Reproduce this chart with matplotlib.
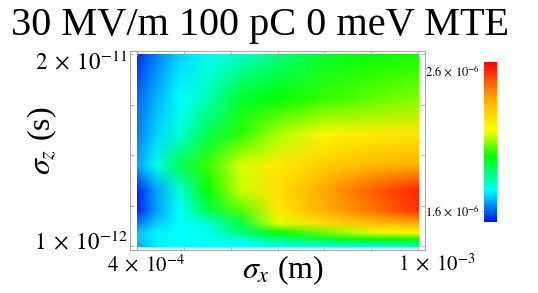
import numpy as np
import matplotlib
matplotlib.use("Agg")
import matplotlib.pyplot as plt
import matplotlib.transforms as mtransforms
from matplotlib.colors import LinearSegmentedColormap, Normalize
from matplotlib.image import NonUniformImage
from matplotlib.patches import Rectangle

# grid nodes
sigma_x = [4.0e-4, 4.4e-4, 4.9e-4, 5.5e-4, 6.2e-4, 7.0e-4, 8.0e-4, 9.0e-4, 1.0e-3]   # m
sigma_z = [1.0e-12, 1.6e-12, 2.3e-12, 3.2e-12, 4.5e-12, 6.5e-12, 9.0e-12,
           12.0e-12, 15.5e-12, 20.0e-12]                                         # s

# emittance (x 1e-6), rows follow sigma_z, columns follow sigma_x
emit = [
    [1.66, 1.73, 1.75, 1.75, 1.75, 1.77, 1.77, 1.77, 1.81],
    [1.69, 1.74, 1.75, 1.76, 1.78, 1.86, 1.93, 1.99, 1.99],
    [1.69, 1.74, 1.75, 1.77, 1.88, 1.98, 2.07, 2.16, 2.20],
    [1.63, 1.70, 1.75, 1.78, 1.92, 2.16, 2.27, 2.34, 2.38],
    [1.54, 1.66, 1.75, 1.92, 2.05, 2.23, 2.38, 2.48, 2.58],
    [1.55, 1.66, 1.79, 1.99, 2.14, 2.26, 2.40, 2.51, 2.60],
    [1.67, 1.77, 1.92, 2.03, 2.15, 2.23, 2.30, 2.35, 2.38],
    [1.63, 1.71, 1.79, 1.92, 2.02, 2.12, 2.20, 2.23, 2.25],
    [1.61, 1.68, 1.75, 1.82, 1.95, 1.99, 2.03, 2.06, 2.09],
    [1.55, 1.63, 1.71, 1.76, 1.80, 1.87, 1.95, 1.99, 2.00],
]

x_ticks = [4e-4, 1e-3]
x_ticklabels = [r"$4\;\times\;10^{-4}$", r"$1\;\times\;10^{-3}$"]
y_ticks = [1e-12, 2e-11]
y_ticklabels = [r"$1\;\times\;10^{-12}$", r"$2\;\times\;10^{-11}$"]
cb_ticks = [1.6, 2.6]
cb_ticklabels = [r"$1.6\,\times\,10^{-6}$", r"$2.6\,\times\,10^{-6}$"]

plt.rcParams["font.family"] = ["Liberation Serif", "DejaVu Serif"]
plt.rcParams["mathtext.fontset"] = "stix"

rainbow = LinearSegmentedColormap.from_list(
    "rainbow_mma",
    [(0.0, "#0010f0"), (0.2, "#00ffff"), (0.41, "#00ff00"),
     (0.58, "#ffff00"), (0.78, "#ffa500"), (1.0, "#ff0000")])
norm = Normalize(vmin=1.52, vmax=2.66)

W, H = 538, 293
fig = plt.figure(figsize=(W / 100, H / 100), dpi=100)

def px_box(l, t, r, b):
    return [l / W, 1 - b / H, (r - l) / W, (b - t) / H]

ax = fig.add_axes(px_box(130, 51, 425, 250))
im = NonUniformImage(ax, interpolation="bilinear", cmap=rainbow, norm=norm,
                     extent=(sigma_x[0], sigma_x[-1], sigma_z[0], sigma_z[-1]))
im.set_data(np.array(sigma_x), np.array(sigma_z), np.array(emit))
ax.add_image(im)
# keep the image inside its data range (leaves the white margin to the frame)
im.set_clip_path(Rectangle((sigma_x[0], sigma_z[0]),
                           sigma_x[-1] - sigma_x[0], sigma_z[-1] - sigma_z[0],
                           transform=ax.transData))
ax.set_xlim(3.85e-4, 1.015e-3)
ax.set_ylim(0.6e-12, 2.03e-11)

for s in ax.spines.values():
    s.set_color("#a8a8a8")
    s.set_linewidth(0.8)

ax.set_xticks(x_ticks)
ax.set_xticklabels(x_ticklabels)
ax.set_xticks([5e-4, 6e-4, 7e-4, 8e-4, 9e-4], minor=True)
ax.set_yticks(y_ticks)
ax.set_yticklabels(y_ticklabels)
ax.set_yticks([5e-12, 1e-11, 1.5e-11], minor=True)
ax.tick_params(which="both", direction="in", color="#a8a8a8", length=3,
               width=0.6, top=True, right=True, labelsize=15)
ax.tick_params(axis="x", pad=3)
ax.tick_params(axis="y", pad=2, labelsize=16.5)

# shift tick labels the way the original lays them out
def shift(label, dx, dy):
    off = mtransforms.ScaledTranslation(dx / 100, dy / 100, fig.dpi_scale_trans)
    label.set_transform(label.get_transform() + off)

xl = ax.get_xticklabels()
shift(xl[0], 9, 0)
shift(xl[1], 19, 0)
yl = ax.get_yticklabels()
shift(yl[0], 0, 6)
shift(yl[1], 0, -6)

fig.text(283 / W, 1 - 270 / H, r"$\sigma_x$ (m)", fontsize=23,
         ha="center", va="center")
fig.text(42 / W, 1 - 141 / H, r"$\sigma_z$ (s)", fontsize=23,
         ha="center", va="center", rotation=90)
fig.text(260 / W, 1 - 26 / H, "30 MV/m 100 pC 0 meV MTE", fontsize=29,
         ha="center", va="center")

cax = fig.add_axes(px_box(484, 62, 497, 222))
cb = fig.colorbar(plt.cm.ScalarMappable(norm=norm, cmap=rainbow), cax=cax)
cb.outline.set_visible(False)
cb.set_ticks(cb_ticks)
cb.set_ticklabels(cb_ticklabels)
cax.yaxis.set_ticks_position("left")
cax.tick_params(length=2, width=0.5, color="#a8a8a8", labelsize=9, pad=1)

fig.savefig("out.png", dpi=100)
